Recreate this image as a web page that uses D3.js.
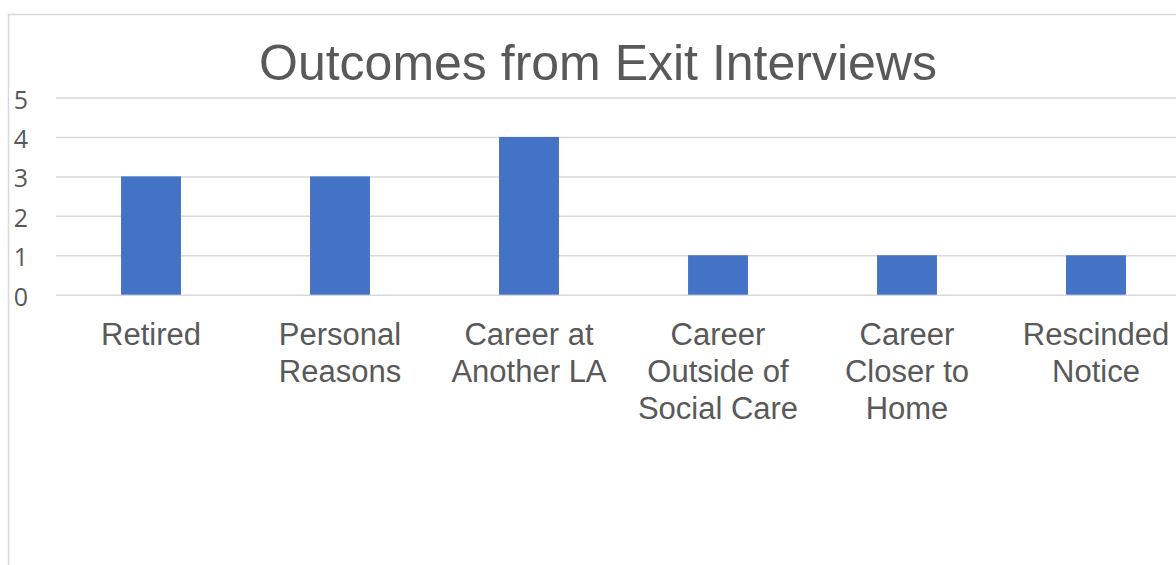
<!DOCTYPE html>
<html>
<head>
<meta charset="utf-8">
<script src="https://cdn.jsdelivr.net/npm/d3@7"></script>
<style>
  html, body { margin: 0; padding: 0; background: #fff; overflow: hidden; }
  svg { display: block; }
</style>
</head>
<body>
<svg id="chart" width="1176" height="565"></svg>
<script>
// Exit interview outcomes (count of leavers per reason)
const categories = [
  ["Retired"],
  ["Personal", "Reasons"],
  ["Career at", "Another LA"],
  ["Career", "Outside of", "Social Care"],
  ["Career", "Closer to", "Home"],
  ["Rescinded", "Notice"]
];
const values = [3, 3, 4, 1, 1, 1];
const yTicks = [0, 1, 2, 3, 4, 5];
const title = "Outcomes from Exit Interviews";

const svg = d3.select("#chart");
const textColor = "#595959";
const gridColor = "#d9d9d9";
const barColor = "#4472c4";
const font = "'Liberation Sans', Arial, sans-serif";

// Chart frame (runs off the right and bottom edges)
svg.append("rect")
  .attr("x", 8.5).attr("y", 14.5)
  .attr("width", 1200).attr("height", 600)
  .attr("fill", "none")
  .attr("stroke", gridColor)
  .attr("stroke-width", 1.5);

const keys = categories.map(d => d.join(" "));

const x = d3.scaleBand()
  .domain(keys)
  .range([56.5, 1190.5])
  .paddingInner(0.683)
  .paddingOuter(0.3415);

const y = d3.scaleLinear()
  .domain([0, 5])
  .range([294.7, 97.5]);

// Title
svg.append("text")
  .attr("x", 598).attr("y", 80)
  .attr("text-anchor", "middle")
  .attr("font-family", font)
  .attr("font-size", 50)
  .attr("fill", textColor)
  .text(title);

// Horizontal gridlines
const yAxis = d3.axisLeft(y)
  .tickValues(yTicks)
  .tickSize(-1200)
  .tickFormat(d3.format("d"));

const gy = svg.append("g")
  .attr("transform", "translate(56,0)")
  .call(yAxis);
gy.select(".domain").remove();
gy.selectAll(".tick line")
  .attr("stroke", gridColor)
  .attr("stroke-width", 1.5);
gy.selectAll(".tick text")
  .attr("x", -28)
  .attr("dy", "0.42em")
  .attr("text-anchor", "end")
  .attr("font-family", "'Open Sans', 'Liberation Sans', sans-serif")
  .attr("font-size", 25)
  .attr("fill", textColor);

// Bars
svg.append("g")
  .selectAll("rect")
  .data(values)
  .join("rect")
  .attr("x", (d, i) => x(keys[i]))
  .attr("width", x.bandwidth())
  .attr("y", d => y(d))
  .attr("height", d => y(0) - y(d))
  .attr("fill", barColor);

// Category labels (multi-line)
const labels = svg.append("g")
  .selectAll("text")
  .data(categories)
  .join("text")
  .attr("x", (d, i) => x(keys[i]) + x.bandwidth() / 2)
  .attr("y", 345)
  .attr("text-anchor", "middle")
  .attr("font-family", font)
  .attr("font-size", 31)
  .attr("fill", textColor);

labels.selectAll("tspan")
  .data(d => d)
  .join("tspan")
  .attr("x", function () { return d3.select(this.parentNode).attr("x"); })
  .attr("dy", (d, i) => i === 0 ? 0 : 37)
  .text(d => d);
</script>
</body>
</html>
